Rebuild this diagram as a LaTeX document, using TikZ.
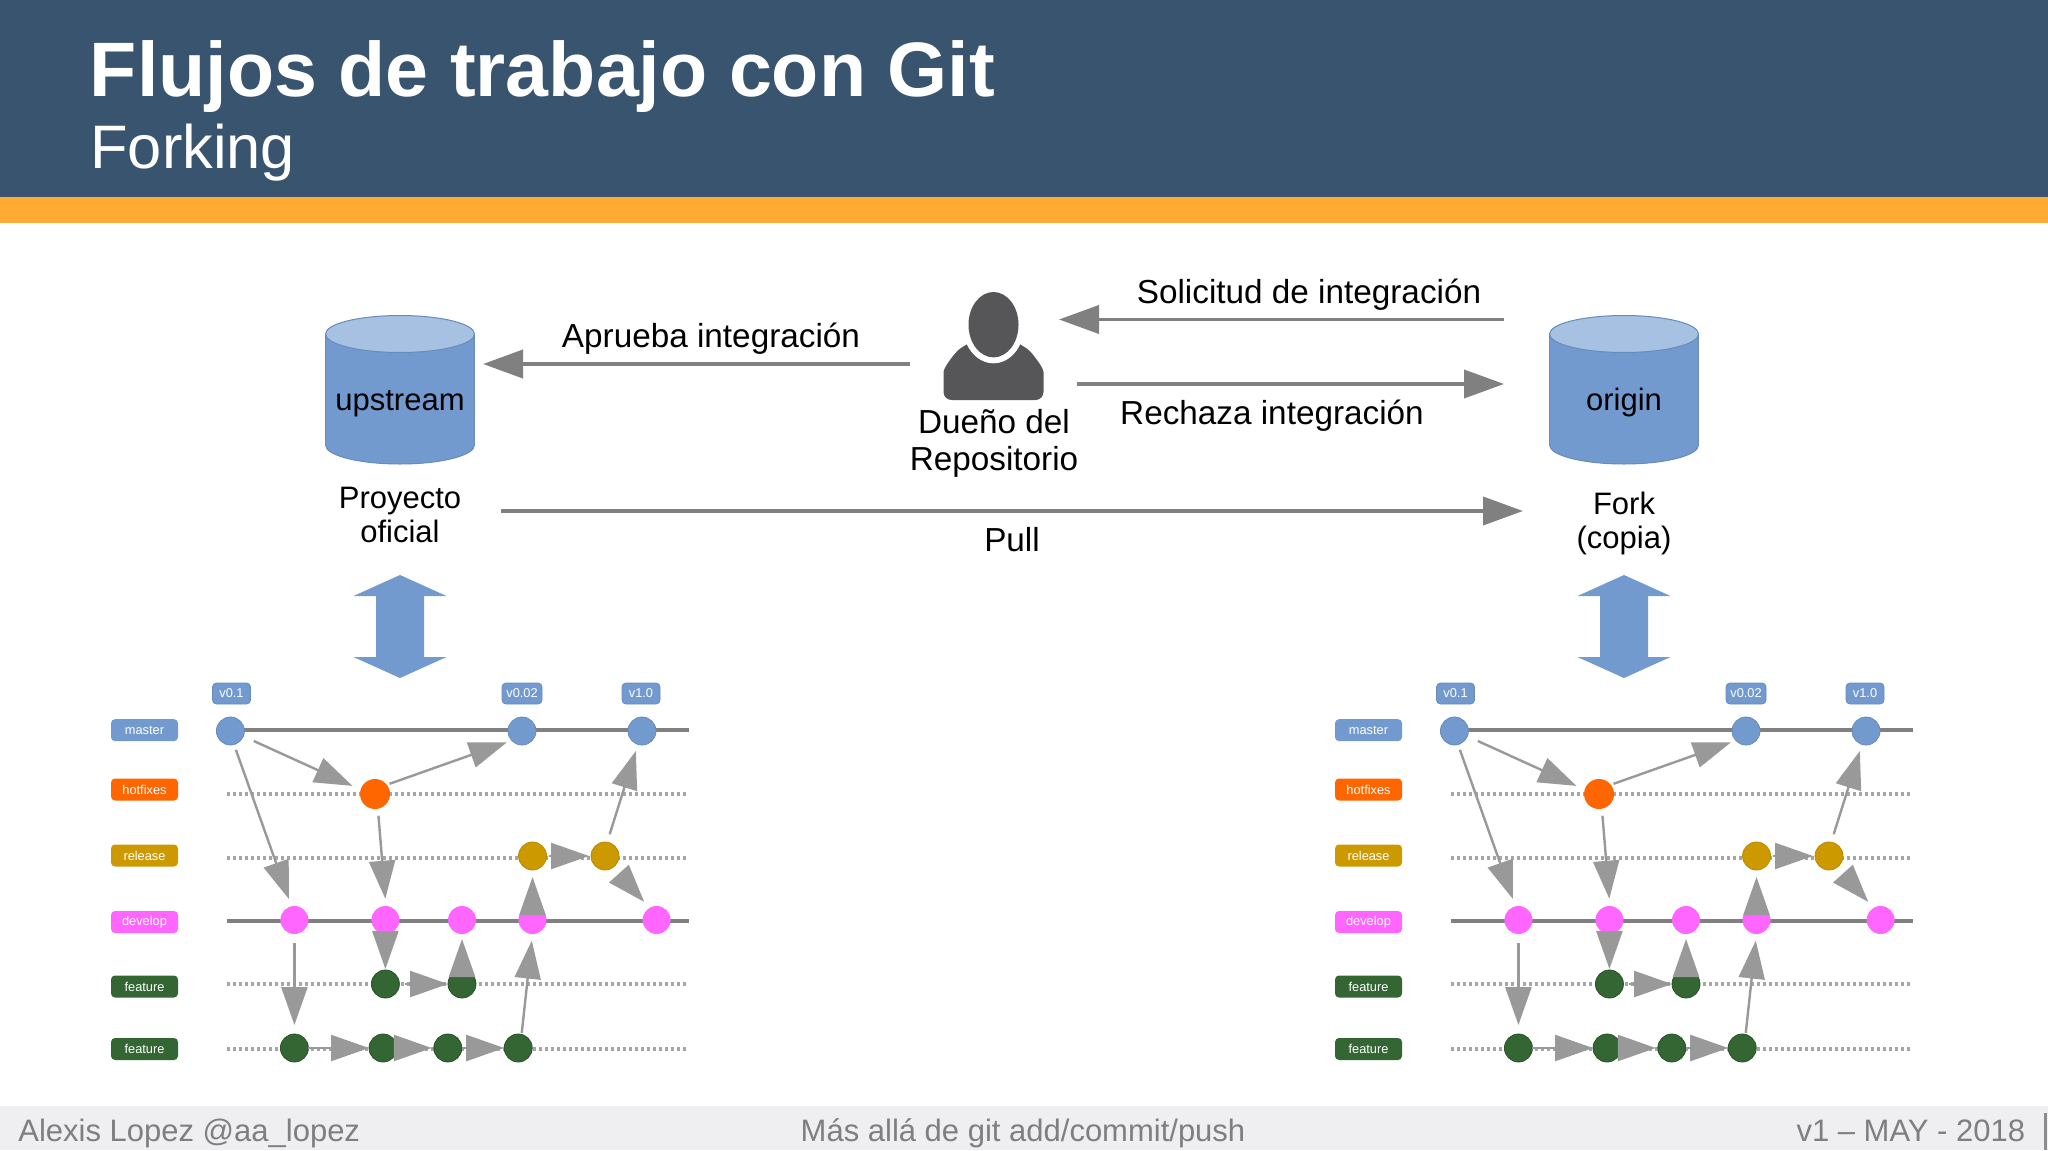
\documentclass[tikz,border=0pt]{standalone}
\usepackage{fontspec}
\setmainfont{Liberation Sans}
\usetikzlibrary{arrows.meta}

\definecolor{headblue}{HTML}{39546E}
\definecolor{headorange}{HTML}{FFAA33}
\definecolor{footgray}{HTML}{EFEEF1}
\definecolor{foottext}{HTML}{7F7F82}
\definecolor{bluefill}{HTML}{729ACF}
\definecolor{bluetop}{HTML}{A6C1E2}
\definecolor{hotfill}{HTML}{FF6600}
\definecolor{relfill}{HTML}{CC9900}
\definecolor{devfill}{HTML}{FF66FF}
\definecolor{featfill}{HTML}{336633}
\definecolor{personc}{HTML}{565659}

\tikzset{
    maintext/.style={font=\fontsize{16.65}{16.8}\selectfont,align=center,inner sep=0pt},
    repotext/.style={font=\fontsize{15.5}{17}\selectfont,align=center,inner sep=0pt},
    foot/.style={font=\fontsize{15.5}{16}\selectfont,text=foottext,inner sep=0pt},
    repoedge/.style={draw=bluefill!90!black,line width=0.5pt},
    bigarrow/.style={draw=gray,line width=1.9pt,-{Triangle[length=20pt,width=14pt]}},
    tag/.style={rounded corners=2pt,minimum width=33.5pt,minimum height=11pt,inner sep=0pt,outer sep=0pt,
        font=\fontsize{6.4}{7}\selectfont,text=white},
    vtag/.style={tag,minimum width=19pt,minimum height=10.5pt,fill=bluefill,draw=bluefill!90!black,line width=0.4pt},
    commit/.style={circle,minimum size=14pt,inner sep=0pt,outer sep=0pt,line width=0.4pt},
    solidrow/.style={draw=gray,line width=1.8pt},
    dotrow/.style={draw=black!35,line width=1.7pt,dash pattern=on 1.7pt off 1.3pt},
    gitarrow/.style={draw=black!40,line width=1.2pt,-{Triangle[length=19pt,width=13pt]}},
}

\newcommand{\gitgraph}{
    % rows
    \node[tag,fill=bluefill] (lm) at (144.5,730.2) {master};
    \node[tag,fill=hotfill] (lh) at (144.5,789.5) {hotfixes};
    \node[tag,fill=relfill] (lr) at (144.5,855.5) {release};
    \node[tag,fill=devfill] (ld) at (144.5,922) {develop};
    \node[tag,fill=featfill] (lf) at (144.5,986.5) {feature};
    \node[tag,fill=featfill] (lg) at (144.5,1049) {feature};

    \node[vtag] (t1) at (231.5,693.5) {v0.1};
    \node[vtag,minimum width=20pt] (t2) at (522,693.5) {v0.02};
    \node[vtag] (t3) at (641,693.5) {v1.0};

    \coordinate (ms) at (230.4,730);
    \coordinate (me) at (689,730);
    \coordinate (hs) at (226.8,794);
    \coordinate (he) at (686,794);
    \coordinate (rs) at (226.8,858);
    \coordinate (re) at (686,858);
    \coordinate (ds) at (226.8,921);
    \coordinate (de) at (689,921);
    \coordinate (fs) at (226.8,984);
    \coordinate (fe) at (686,984);
    \coordinate (gs) at (226.8,1049);
    \coordinate (ge) at (686,1049);
    \draw[solidrow] (ms) -- (me);
    \draw[dotrow] (hs) -- (he);
    \draw[dotrow] (rs) -- (re);
    \draw[solidrow] (ds) -- (de);
    \draw[dotrow] (fs) -- (fe);
    \draw[dotrow] (gs) -- (ge);

    % commits
    \foreach \n/\x in {m1/230.4,m2/522,m3/642}
        \node[commit,fill=bluefill,draw=bluefill!90!black] (\n) at (\x,731) {};
    \node[commit,minimum size=15pt,fill=hotfill] (h) at (375,794) {};
    \foreach \n/\x in {r1/532.5,r2/605}
        \node[commit,fill=relfill,draw=relfill!90!black] (\n) at (\x,856) {};
    \foreach \n/\x in {d1/294.4,d2/385.4,d3/462,d4/532.5,d5/656.6}
        \node[commit,fill=devfill] (\n) at (\x,920) {};
    \foreach \n/\x in {f1/385.4,f2/462}
        \node[commit,fill=featfill,draw=featfill!80!black] (\n) at (\x,984) {};
    \foreach \n/\x in {g1/294.4,g2/383,g3/447.8,g4/518.2}
        \node[commit,fill=featfill,draw=featfill!80!black] (\n) at (\x,1048) {};

    % merges
    \draw[gitarrow,shorten <=5.75pt,shorten >=4.5pt] (m1.-22) -- (h.163);
    \draw[gitarrow,shorten <=1.4pt,shorten >=2.5pt] (h.38) -- (m2.223);
    \draw[gitarrow,shorten <=2.8pt,shorten >=3.9pt] (m1.-75) -- (d1.102);
    \draw[gitarrow,shorten <=3.5pt,shorten >=3.65pt] (h.-79) -- (d2.88);
    \draw[gitarrow,shorten <=4.15pt,shorten >=3.45pt] (r2.81) -- (m3.253);
    \draw[gitarrow,shorten <=1pt,shorten >=1pt] (r1) -- (r2);
    \draw[gitarrow,shorten <=4.8pt,shorten >=4pt] (r2.-54) -- (d5.120);
    \draw[gitarrow,shorten <=3.5pt,shorten >=3.5pt] (d4.center) -- (r1.south);
    \draw[gitarrow,shorten >=0.5pt] (d2.south) -- (f1.north);
    \draw[gitarrow,shorten <=3.5pt,shorten >=2.5pt] (f2.center) -- (d3.south);
    \draw[gitarrow,shorten <=2.8pt] (f1) -- (f2);
    \draw[gitarrow,shorten <=0.75pt,shorten >=3.35pt] (g4.76) -- (d4.south);
    \draw[gitarrow,shorten <=4.35pt,shorten >=4.5pt] (d1.south) -- (g1.north);
    \draw[gitarrow] (g1) -- (g2);
    \draw[gitarrow,shorten >=1pt] (g2) -- (g3);
    \draw[gitarrow] (g3) -- (g4);
}

\newcommand{\repodrum}[1]{
    \filldraw[fill=bluefill,repoedge] (#1,445) ellipse (74.5 and 19);
    \fill[bluefill] (#1-74.5,334) rectangle (#1+74.5,445);
    \draw[repoedge] (#1-74.5,334) -- (#1-74.5,445);
    \draw[repoedge] (#1+74.5,334) -- (#1+74.5,445);
    \filldraw[fill=bluetop,repoedge] (#1,334) ellipse (74.5 and 18.5);
}

\newcommand{\syncarrow}[1]{
    \fill[bluefill] (#1,575) -- (#1+46.5,596) -- (#1+24,596) -- (#1+24,657) -- (#1+46.5,657)
        -- (#1,678) -- (#1-46.5,657) -- (#1-24,657) -- (#1-24,596) -- (#1-46.5,596) -- cycle;
}

\begin{document}
\begin{tikzpicture}[x=0.5pt,y=-0.5pt]
    \useasboundingbox (0,0) rectangle (2048,1150);
    \fill[white] (0,0) rectangle (2048,1150);

    % header and footer
    \fill[headblue] (0,0) rectangle (2048,197);
    \fill[headorange] (0,197) rectangle (2048,223);
    \fill[footgray] (0,1106) rectangle (2048,1150);
    \fill[black!45] (2043.5,1113) rectangle (2046.5,1150);
    \node[anchor=base west,inner sep=0pt,text=white,font=\fontsize{38.6}{40}\selectfont\bfseries] (title) at (89.5,96.5) {Flujos de trabajo con Git};
    \node[anchor=base west,inner sep=0pt,text=white,font=\fontsize{30.7}{32}\selectfont] (subtitle) at (90,169) {Forking};
    \node[foot,anchor=base west] (author) at (18,1141) {Alexis Lopez @aa\_lopez};
    \node[foot,anchor=base] (talk) at (1023,1141) {Más allá de git add/commit/push};
    \node[foot,anchor=base east] (version) at (2025.5,1141) {v1 – MAY - 2018};

    % repositories
    \repodrum{400}
    \repodrum{1624}
    \node[repotext,anchor=base] (upstream) at (400,410) {upstream};
    \node[repotext,anchor=base] (origin) at (1624,410) {origin};
    \node[repotext] (official) at (400,514.5) {Proyecto\\oficial};
    \node[repotext] (fork) at (1624,523) {Fork\\(copia)};

    % owner
    \fill[personc,rounded corners=4pt] (943.5,400) -- (943.5,380) .. controls (943.5,368) and (955,352) .. (967,344)
        -- (993.5,330) -- (1020,344) .. controls (1032,352) and (1043.5,368) .. (1043.5,380) -- (1043.5,400) -- cycle;
    \fill[white] (993.5,324.7) ellipse (31 and 38.6);
    \fill[personc] (993.5,324.7) ellipse (25 and 32.7);
    \node[maintext,font=\fontsize{16.65}{18.5}\selectfont] (owner) at (994,443) {Dueño del\\Repositorio};

    % requests
    \coordinate (ap1) at (910,364);
    \coordinate (ap2) at (483,364);
    \coordinate (so1) at (1504,319.5);
    \coordinate (so2) at (1059,319.5);
    \coordinate (re1) at (1077,384);
    \coordinate (re2) at (1504,384);
    \coordinate (pu1) at (501,511);
    \coordinate (pu2) at (1523,511);
    \draw[bigarrow] (ap1) -- (ap2);
    \draw[bigarrow] (so1) -- (so2);
    \draw[bigarrow] (re1) -- (re2);
    \draw[bigarrow] (pu1) -- (pu2);
    \node[maintext] (approve) at (711,338.5) {Aprueba integración};
    \node[maintext] (request) at (1309,295) {Solicitud de integración};
    \node[maintext] (reject) at (1272,416) {Rechaza integración};
    \node[maintext] (pull) at (1012,540) {Pull};

    \syncarrow{400}
    \syncarrow{1624}

    \begin{scope}[name prefix=a-]
        \gitgraph
    \end{scope}
    \begin{scope}[name prefix=b-,xshift=612pt]
        \gitgraph
    \end{scope}
\end{tikzpicture}
\end{document}
